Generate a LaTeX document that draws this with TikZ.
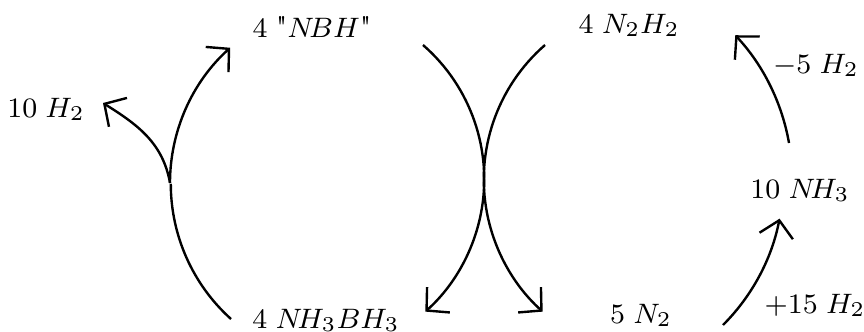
\documentclass[tikz,border=0pt]{standalone}
\usetikzlibrary{arrows.meta}

\definecolor{cycleInk}{RGB}{0,0,0}

\begin{document}
\begin{tikzpicture}[x=1cm,y=1cm,
      species/.style={font=\fontsize{8.5}{10}\selectfont, text=cycleInk,
        anchor=base, inner sep=0pt},
      react/.style={draw=cycleInk, line width=.68pt,
        -{Straight Barb[length=1.6mm,width=3.4mm]}},
      plain/.style={draw=cycleInk, line width=.68pt}]
      \useasboundingbox (0,0) rectangle (8.64,3.31);

      % Species of the cycle.
      \node[species] (nbh) at (3.12,2.94)
        {$4\;$\textquotedbl$N\!BH$\textquotedbl};
      \node[species] (diazene) at (6.29,2.98) {$4\;N_2H_2$};
      \node[species] (hydrogenOut) at (0.46,2.14) {$10\;H_2$};
      \node[species] (minusFive) at (8.16,2.58) {$-5\;H_2$};
      \node[species] (ammonia) at (8.00,1.33) {$10\;N\!H_3$};
      \node[species] (borane) at (3.26,0.03) {$4\;N\!H_3BH_3$};
      \node[species] (nitrogen) at (6.41,0.08) {$5\;N_2$};
      \node[species] (plusFifteen) at (8.15,0.18) {$+15\;H_2$};

      % Free ends of the arcs.
      \coordinate (boraneTop) at (2.31,0.12);
      \coordinate (split) at (1.70,1.48);
      \coordinate (hydrogenTip) at (1.03,2.28);
      \coordinate (nbhRight) at (4.23,2.86);
      \coordinate (diazeneLeft) at (5.45,2.86);
      \coordinate (nitrogenRight) at (7.23,0.06);
      \coordinate (ammoniaHead) at (7.89,1.88);

      % Dehydrogenation of the borane, with the hydrogen given off.
      \path[plain] (boraneTop) arc[start angle=228, end angle=180, radius=1.82];
      \path[react] (split) arc[start angle=180, end angle=132, radius=1.82];
      \path[react] (split) to[out=100,in=-32] (hydrogenTip);

      % Exchange of hydrogen between NBH and N2.
      \path[react] (nbhRight) arc[start angle=49, end angle=-48, radius=1.78];
      \path[react] (diazeneLeft) arc[start angle=131, end angle=228, radius=1.78];

      % Haber step and back to diazene.
      \path[react] (nitrogenRight) arc[start angle=-45, end angle=-11, radius=2.06];
      \path[react] (ammoniaHead) arc[start angle=10, end angle=43, radius=2.12];
    \end{tikzpicture}
\end{document}
